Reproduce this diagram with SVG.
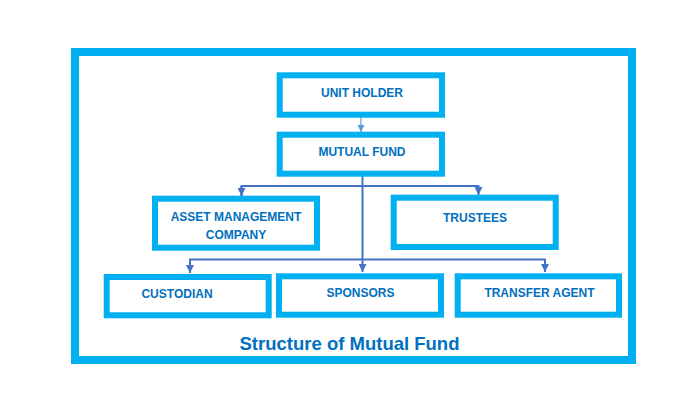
<svg xmlns="http://www.w3.org/2000/svg" width="690" height="400" viewBox="0 0 690 400">
<style>
.box{fill:#fff;stroke:#00B0F0;stroke-width:6}
.lbl{font-family:"Liberation Sans",Arial,sans-serif;font-weight:bold;font-size:12px;fill:#0070C0;text-anchor:middle}
.con{fill:none;stroke:#4472C4;stroke-width:2}
</style>
<defs>
<marker id="ah" viewBox="0 0 10 10" refX="10" refY="5" markerWidth="4" markerHeight="4" orient="auto" markerUnits="strokeWidth"><path d="M0,0 L10,5 L0,10 z" fill="#4472C4"/></marker>
<marker id="ah2" viewBox="0 0 10 10" refX="10" refY="5" markerWidth="6" markerHeight="6" orient="auto" markerUnits="strokeWidth"><path d="M0,0 L10,5 L0,10 z" fill="#5B9BD5"/></marker>
</defs>
<rect width="690" height="400" fill="#fff"/>
<rect id="frame" x="75" y="52" width="557" height="308" fill="#fff" stroke="#00B0F0" stroke-width="8"/>
<g id="connectors">
<line x1="361" y1="117" x2="361" y2="132" stroke="#5B9BD5" stroke-width="1.2" marker-end="url(#ah2)"/>
<line class="con" x1="362.5" y1="175" x2="362.5" y2="272" marker-end="url(#ah)"/>
<path class="con" d="M241.5,196 V186 H478.5 V195" marker-end="url(#ah)"/>
<path class="con" d="M241.5,186 V196" marker-end="url(#ah)"/>
<path class="con" d="M190,273 V259.5 H545 V272" marker-end="url(#ah)"/>
<path class="con" d="M190,259.5 V273" marker-end="url(#ah)"/>
</g>
<g id="unit-holder"><rect class="box" x="279.7" y="75.3" width="162.3" height="39.4"/><text class="lbl" x="362" y="97">UNIT HOLDER</text></g>
<g id="mutual-fund"><rect class="box" x="279.7" y="134.7" width="162.3" height="39"/><text class="lbl" x="362" y="156">MUTUAL FUND</text></g>
<g id="amc"><rect class="box" x="155" y="198.7" width="162" height="49"/><text class="lbl" x="236" y="221">ASSET MANAGEMENT</text><text class="lbl" x="236" y="239">COMPANY</text></g>
<g id="trustees"><rect class="box" x="393.7" y="197.7" width="162" height="49.3"/><text class="lbl" x="475" y="222">TRUSTEES</text></g>
<g id="custodian"><rect class="box" x="106.7" y="277" width="162" height="38.3"/><text class="lbl" x="177" y="297.5">CUSTODIAN</text></g>
<g id="sponsors"><rect class="box" x="279" y="276.3" width="162" height="38.4"/><text class="lbl" x="360.5" y="297">SPONSORS</text></g>
<g id="transfer-agent"><rect class="box" x="457.7" y="276.3" width="161.3" height="38.4"/><text class="lbl" x="539.5" y="297">TRANSFER AGENT</text></g>
<text x="349.5" y="350" font-family="'Liberation Sans',Arial,sans-serif" font-weight="bold" font-size="18.5" fill="#0070C0" text-anchor="middle">Structure of Mutual Fund</text>
</svg>
